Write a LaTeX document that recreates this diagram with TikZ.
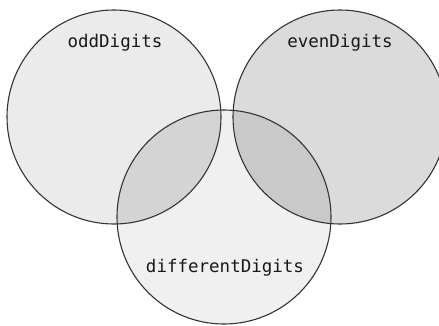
\documentclass[tikz,border=0pt]{standalone}
\usepackage{fontspec}
\newfontfamily\monofont{DejaVu Sans Mono}
\begin{document}
\begin{tikzpicture}[x=1pt,y=-1pt,
  setcircle/.style={circle, draw=none, inner sep=0pt, minimum size=214pt},
  outline/.style={draw=black!80, line width=1.1pt},
  setlabel/.style={font=\monofont\fontsize{17.5}{20}\selectfont, text=black!90}]
\useasboundingbox[fill=white] (0,0) rectangle (439,325);
\node[setcircle, fill=black!8] (odd) at (114,117) {};
\node[setcircle, fill=black!14] (even) at (340,117) {};
\node[setcircle, fill=black!6] (diff) at (224,217) {};
\begin{scope}
  \clip (odd.center) circle (107);
  \fill[black!17] (diff.center) circle (107);
\end{scope}
\begin{scope}
  \clip (even.center) circle (107);
  \fill[black!21] (diff.center) circle (107);
\end{scope}
\draw[outline] (odd.center) circle (107);
\draw[outline] (even.center) circle (107);
\draw[outline] (diff.center) circle (107);
\node[setlabel] (oddlbl) at (115,43) {oddDigits};
\node[setlabel] (evenlbl) at (340,43) {evenDigits};
\node[setlabel] (difflbl) at (225,268) {differentDigits};
\end{tikzpicture}
\end{document}
